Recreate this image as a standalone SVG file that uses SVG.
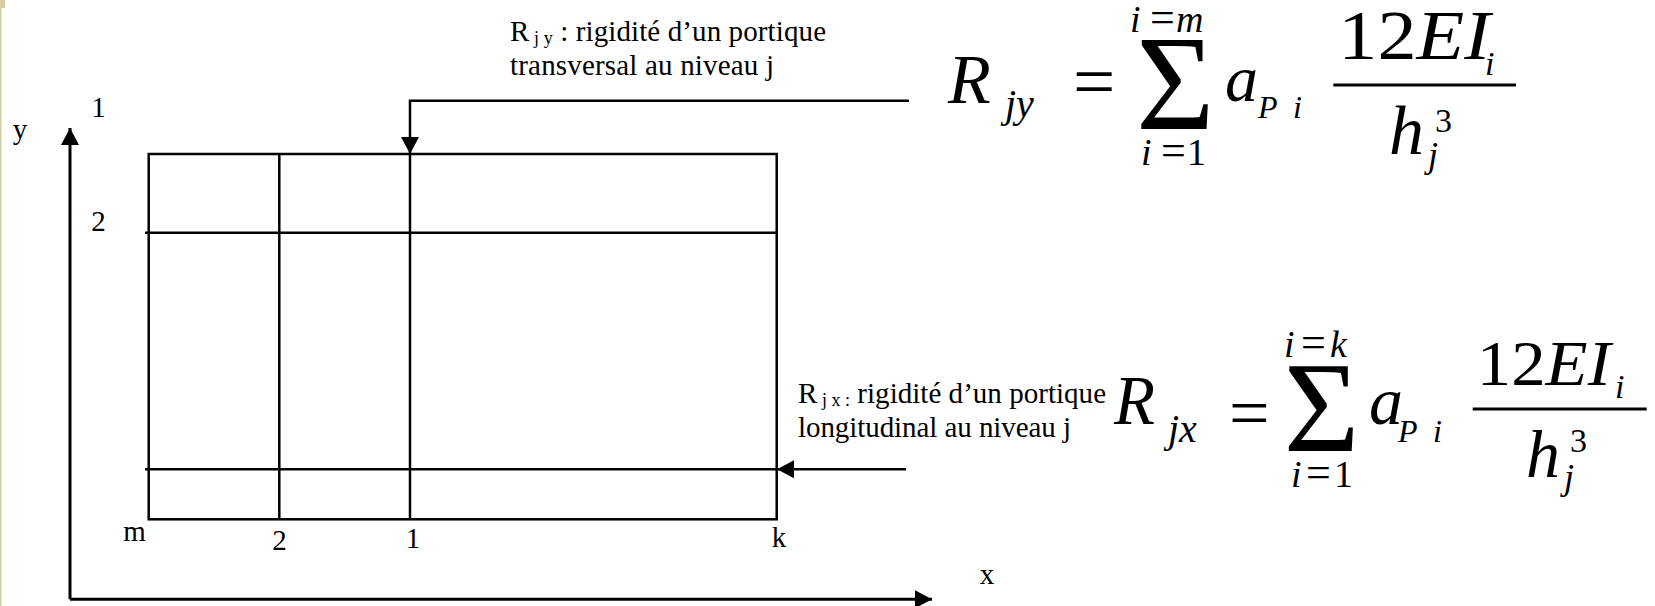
<svg xmlns="http://www.w3.org/2000/svg" width="1655" height="606" viewBox="0 0 1655 606">
<style>
text{font-family:"Liberation Serif","Times New Roman",serif;fill:#000}
.lbl{font-size:29px}
.it{font-style:italic}
.ln{fill:none;stroke:#000;stroke-width:2.5}
.ax{fill:none;stroke:#000;stroke-width:3}
.bar{stroke:#000;stroke-width:3}
</style>
<defs>
<marker id="ah" markerUnits="userSpaceOnUse" viewBox="0 0 17 18" markerWidth="17" markerHeight="18" refX="17" refY="9" orient="auto">
<path d="M0,0 L17,9 L0,18 z" fill="#000"/>
</marker>
</defs>
<rect width="1655" height="606" fill="#fff"/>
<g id="page-edge">
<rect x="0" y="0" width="1.5" height="606" fill="#d8cba4"/>
<rect x="0" y="0" width="5" height="8" fill="#d8cba4"/>
</g>
<g id="grid">
<rect class="ln" x="148.7" y="154" width="628" height="365.3"/>
<line class="ln" x1="279.3" y1="154" x2="279.3" y2="519.3"/>
<line class="ln" x1="410" y1="154" x2="410" y2="519.3"/>
<line class="ln" x1="145" y1="232.7" x2="776.7" y2="232.7"/>
<line class="ln" x1="145" y1="469.3" x2="776.7" y2="469.3"/>
</g>
<g id="connectors">
<path class="ax" d="M70,599.3 V128" marker-end="url(#ah)"/>
<path class="ax" d="M70,599.3 H932" marker-end="url(#ah)"/>
<path class="ln" d="M909,100.7 H410 V154" marker-end="url(#ah)"/>
<path class="ln" d="M906,469.3 H777" marker-end="url(#ah)"/>
</g>
<g id="axis-labels" class="lbl">
<text x="20" y="139" text-anchor="middle">y</text>
<text x="987" y="584" text-anchor="middle">x</text>
<text x="98.5" y="117" text-anchor="middle">1</text>
<text x="98.5" y="231" text-anchor="middle">2</text>
<text x="134.5" y="540.7" text-anchor="middle">m</text>
<text x="279.5" y="550" text-anchor="middle">2</text>
<text x="413" y="547.7" text-anchor="middle">1</text>
<text x="779" y="547.3" text-anchor="middle">k</text>
</g>
<g id="label-y" class="lbl">
<text x="510" y="40.5" textLength="316" lengthAdjust="spacing">R<tspan font-size="18" dy="3"> j y</tspan><tspan dy="-3"> : rigidité d’un portique</tspan></text>
<text x="510" y="74.5" textLength="264" lengthAdjust="spacing">transversal au niveau j</text>
</g>
<g id="label-x" class="lbl">
<text x="798" y="403" textLength="308" lengthAdjust="spacing">R<tspan font-size="18" dy="3"> j x :</tspan><tspan dy="-3"> rigidité d’un portique</tspan></text>
<text x="798" y="436.5" textLength="273" lengthAdjust="spacing">longitudinal au niveau j</text>
</g>
<g id="formula-y">
<text class="it" x="948" y="102.7" font-size="70">R</text>
<text class="it" x="1005" y="117" font-size="40">jy</text>
<text x="1073" y="106" font-size="75">=</text>
<text x="1175.3" y="129" font-size="135" text-anchor="middle">Σ</text>
<text y="31.7" font-size="38"><tspan class="it" x="1130">i</tspan><tspan x="1150" font-size="44">=</tspan><tspan class="it" x="1176">m</tspan></text>
<text y="165" font-size="38"><tspan class="it" x="1141">i</tspan><tspan x="1161" font-size="44">=</tspan><tspan x="1187">1</tspan></text>
<text class="it" x="1225" y="101" font-size="66">a</text>
<text class="it" y="118.3" font-size="32"><tspan x="1258">P</tspan><tspan x="1293">i</tspan></text>
<line class="bar" x1="1333.3" y1="85" x2="1516" y2="85"/>
<text x="1338.3" y="59.3" font-size="70" textLength="152" lengthAdjust="spacingAndGlyphs">12<tspan class="it">EI</tspan></text>
<text class="it" x="1485" y="75" font-size="34">i</text>
<text class="it" x="1389" y="154" font-size="70">h</text>
<text x="1435" y="131.7" font-size="34">3</text>
<text class="it" x="1428" y="166.7" font-size="36">j</text>
</g>
<g id="formula-x">
<text class="it" x="1114" y="424" font-size="70" textLength="41" lengthAdjust="spacingAndGlyphs">R</text>
<text class="it" x="1168" y="441.7" font-size="40">jx</text>
<text x="1229" y="437" font-size="72">=</text>
<text x="1321.7" y="451" font-size="130" text-anchor="middle">Σ</text>
<text y="357.3" font-size="38"><tspan class="it" x="1284">i</tspan><tspan x="1301" font-size="44">=</tspan><tspan class="it" x="1330">k</tspan></text>
<text y="487.3" font-size="38"><tspan class="it" x="1291">i</tspan><tspan x="1306" font-size="44">=</tspan><tspan x="1334">1</tspan></text>
<text class="it" x="1369" y="424" font-size="68">a</text>
<text class="it" y="441.7" font-size="32"><tspan x="1398">P</tspan><tspan x="1433">i</tspan></text>
<line class="bar" x1="1472.7" y1="409" x2="1646.7" y2="409"/>
<text x="1476.7" y="385" font-size="64" textLength="134" lengthAdjust="spacingAndGlyphs">12<tspan class="it">EI</tspan></text>
<text class="it" x="1615" y="398.3" font-size="34">i</text>
<text class="it" x="1526" y="476.7" font-size="68">h</text>
<text x="1570" y="452" font-size="34">3</text>
<text class="it" x="1564" y="489.4" font-size="36">j</text>
</g>
</svg>
